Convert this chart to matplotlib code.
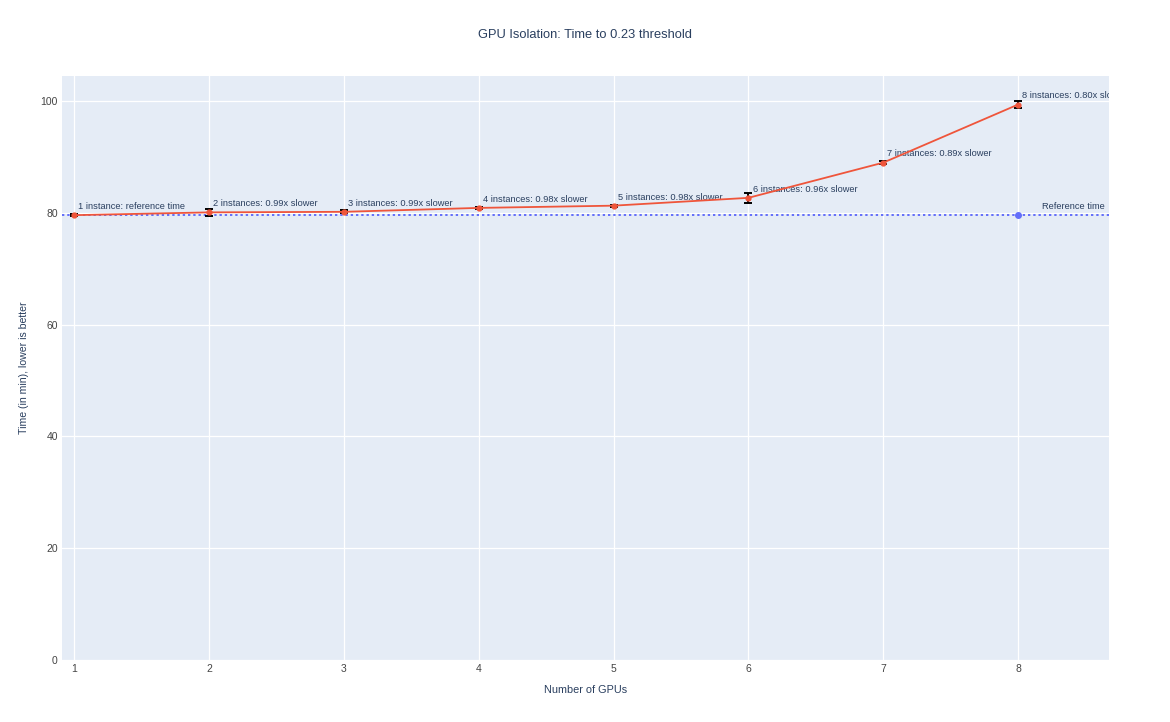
import matplotlib.pyplot as plt

# data
gpus = [1, 2, 3, 4, 5, 6, 7, 8]
times = [79.6, 80.1, 80.2, 80.9, 81.3, 82.7, 89.0, 99.4]
errors = [0.15, 0.6, 0.25, 0.2, 0.15, 0.85, 0.3, 0.6]
labels = ["1 instance: reference time",
          "2 instances: 0.99x slower",
          "3 instances: 0.99x slower",
          "4 instances: 0.98x slower",
          "5 instances: 0.98x slower",
          "6 instances: 0.96x slower",
          "7 instances: 0.89x slower",
          "8 instances: 0.80x slower"]
ref_time = 79.6

plt.rcParams['font.family'] = ['Liberation Sans', 'DejaVu Sans']
text_color = '#2a3f5f'

fig = plt.figure(figsize=(11.7, 7.22), dpi=100)
ax = fig.add_axes([0.053, 0.0859, 0.895, 0.8088])
ax.set_facecolor('#E5ECF6')
for s in ax.spines.values():
    s.set_visible(False)

ax.set_xlim(0.911, 8.675)
ax.set_ylim(0, 104.5)
ax.set_xticks(gpus)
ax.set_yticks([0, 20, 40, 60, 80, 100])
ax.grid(True, color='white', linewidth=0.9)
ax.set_axisbelow(True)
ax.tick_params(length=0, labelsize=7.5, labelcolor='#444444', pad=3)

# reference line
ax.axhline(ref_time, color='#636EFA', linestyle=(0, (1.2, 1.5)), linewidth=1.4, zorder=2)
ax.plot([8], [ref_time], 'o', color='#636EFA', markersize=4, zorder=3)
ax.annotate("Reference time", (8, ref_time), xytext=(17, 3), textcoords='offset points',
            fontsize=6.7, color=text_color, va='bottom', ha='left')

# timings
ax.errorbar(gpus, times, yerr=errors, color='#EF553B', ecolor='black', elinewidth=1.4,
            capsize=3, capthick=1.4, marker='o', markersize=3.5, linewidth=1.3, zorder=4)
for x, y, t in zip(gpus, times, labels):
    ax.annotate(t, (x, y), xytext=(3, 3), textcoords='offset points', fontsize=6.7,
                color=text_color, va='bottom', ha='left', annotation_clip=False, clip_on=True)

ax.set_xlabel("Number of GPUs", fontsize=7.8, color=text_color, labelpad=8)
ax.set_ylabel("Time (in min), lower is better", fontsize=7.6, color=text_color, labelpad=8)
fig.text(0.5, 0.952, "GPU Isolation: Time to 0.23 threshold", ha='center', va='center',
         fontsize=9.3, color=text_color)

plt.savefig("out.png")
